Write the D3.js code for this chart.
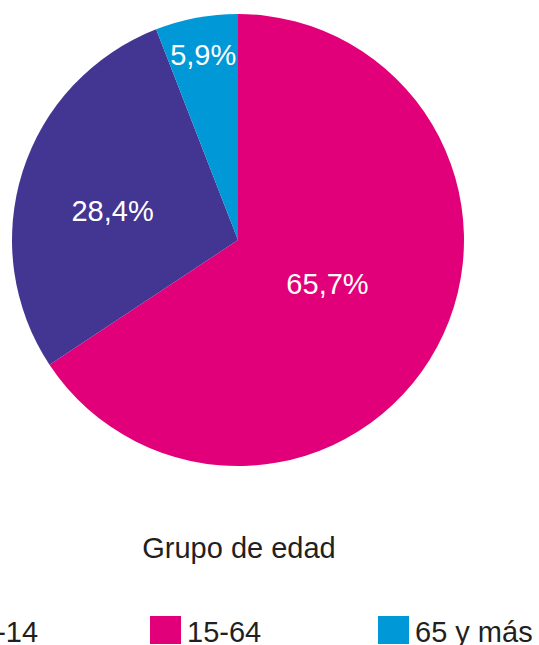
<!DOCTYPE html>
<html>
<head>
<meta charset="utf-8">
<script src="https://cdn.jsdelivr.net/npm/d3@7"></script>
<style>
  html, body { margin: 0; padding: 0; background: #ffffff; overflow: hidden; }
  svg { display: block; }
  text { font-family: "Liberation Sans", Arial, Helvetica, sans-serif; }
</style>
</head>
<body>
<svg id="chart" width="539" height="645"></svg>
<script>
// Population share by age group (percent)
const groups = ["0-14", "15-64", "65 y más"];
const shares = [28.4, 65.7, 5.9];
const shareLabels = ["28,4%", "65,7%", "5,9%"];
const legendTitle = "Grupo de edad";

// Slice order, clockwise from 12 o'clock
const sliceOrder = ["15-64", "0-14", "65 y más"];

const colors = d3.scaleOrdinal()
  .domain(groups)
  .range(["#433592", "#e2007a", "#0098d6"]);

const width = 539, height = 645;
const cx = 238, cy = 240, radius = 226;

// Label placement per group: radius fraction and small angular nudge (degrees)
const labelRadius = { "0-14": 0.57, "15-64": 0.44, "65 y más": 0.835 };
const labelNudge = { "0-14": -4.5, "15-64": -2.4, "65 y más": 0 };

const svg = d3.select("#chart");

const data = sliceOrder.map(g => {
  const i = groups.indexOf(g);
  return { group: g, value: shares[i], label: shareLabels[i] };
});

const pie = d3.pie()
  .value(d => d.value)
  .sort(null)
  .startAngle(0)
  .endAngle(2 * Math.PI);

const arc = d3.arc().innerRadius(0).outerRadius(radius);

const g = svg.append("g").attr("transform", `translate(${cx},${cy})`);

const arcs = pie(data);

g.selectAll("path.slice")
  .data(arcs)
  .join("path")
  .attr("class", "slice")
  .attr("d", arc)
  .attr("fill", d => colors(d.data.group));

g.selectAll("text.val")
  .data(arcs)
  .join("text")
  .attr("class", "val")
  .attr("transform", d => {
    const a = (d.startAngle + d.endAngle) / 2 + labelNudge[d.data.group] * Math.PI / 180;
    const r = radius * labelRadius[d.data.group];
    return `translate(${r * Math.sin(a)},${-r * Math.cos(a)})`;
  })
  .attr("text-anchor", "middle")
  .attr("dy", "0.36em")
  .attr("fill", "#ffffff")
  .style("font-size", "29px")
  .text(d => d.data.label);

// Legend title
svg.append("text")
  .attr("x", 239)
  .attr("y", 558)
  .attr("text-anchor", "middle")
  .attr("fill", "#231f20")
  .style("font-size", "29px")
  .text(legendTitle);

// Legend items (the row is wider than the canvas, so the first one runs off the left edge)
const legendX = [-57, 150, 378];
const legend = svg.selectAll("g.legend")
  .data(groups)
  .join("g")
  .attr("class", "legend")
  .attr("transform", (d, i) => `translate(${legendX[i]},616)`);

legend.append("rect")
  .attr("width", 31)
  .attr("height", 28)
  .attr("fill", d => colors(d));

legend.append("text")
  .attr("x", 37)
  .attr("y", 26)
  .attr("fill", "#231f20")
  .style("font-size", "29px")
  .text(d => d);
</script>
</body>
</html>
